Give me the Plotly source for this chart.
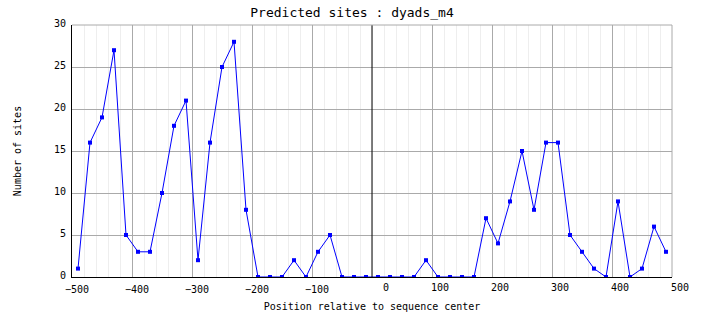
import plotly.graph_objects as go

positions = list(range(-490, 491, 20))
sites = [1, 16, 19, 27, 5, 3, 3, 10, 18, 21,
         2, 16, 25, 28, 8, 0, 0, 0, 2, 0,
         3, 5, 0, 0, 0, 0, 0, 0, 0, 2,
         0, 0, 0, 0, 7, 4, 9, 15, 8, 16,
         16, 5, 3, 1, 0, 9, 0, 1, 6, 3]
x_ticks_neg = [-500, -400, -300, -200, -100]
x_ticks_zero = [0]
x_ticks_pos = [100, 200, 300, 400, 500]
y_ticks = [0, 5, 10, 15, 20, 25, 30]

MONO = "DejaVu Sans Mono"

fig = go.Figure()
fig.add_trace(go.Scatter(
    x=positions, y=sites, mode="lines+markers",
    line=dict(color="#0000ff", width=1),
    marker=dict(symbol="square", size=4, color="#0000ff"),
    showlegend=False, hoverinfo="skip",
))

fig.add_vline(x=0, line=dict(color="black", width=1))
# gray frame top/right
fig.add_shape(type="line", xref="paper", yref="paper", x0=0, x1=1, y0=1, y1=1,
              line=dict(color="#aaaaaa", width=1))
fig.add_shape(type="line", xref="paper", yref="paper", x0=1, x1=1, y0=0, y1=1,
              line=dict(color="#aaaaaa", width=1))

common_x = dict(range=[-500, 500], ticks="", zeroline=False, automargin=False,
                ticklabelstandoff=3, tickfont=dict(family=MONO, size=10, color="black"))

fig.update_layout(
    width=704, height=328,
    margin=dict(l=72, r=32, t=25, b=51),
    paper_bgcolor="white", plot_bgcolor="white",
    font=dict(family=MONO, size=10, color="black"),
    title=dict(text="Predicted sites : dyads_m4", x=0.5, xref="container",
               y=1 - 12 / 328, yref="container", yanchor="middle", xanchor="center",
               font=dict(family=MONO, size=13, color="black")),
    xaxis=dict(
        **common_x, tickvals=x_ticks_neg, showline=True,
        linecolor="black", linewidth=1, mirror=False,
        showgrid=True, gridcolor="#aaaaaa", gridwidth=1,
        minor=dict(dtick=20, tick0=0, showgrid=True, gridcolor="#eeeeee", gridwidth=1),
        ticklabelshift=5,
        title=dict(text="Position relative to sequence center", standoff=8,
                   font=dict(family=MONO, size=10)),
    ),
    xaxis2=dict(
        **common_x, tickvals=x_ticks_zero, overlaying="x", anchor="y", side="bottom",
        showline=False, showgrid=False, ticklabelshift=14,
    ),
    xaxis3=dict(
        **common_x, tickvals=x_ticks_pos, overlaying="x", anchor="y", side="bottom",
        showline=False, showgrid=True, gridcolor="#aaaaaa", gridwidth=1,
        ticklabelshift=8,
    ),
    yaxis=dict(
        range=[0, 30], tickvals=y_ticks, ticks="", showline=True,
        linecolor="black", linewidth=1, mirror=False, zeroline=False,
        showgrid=True, gridcolor="#aaaaaa", gridwidth=1,
        ticklabelshift=-2, ticklabelstandoff=3,
        title=dict(text="Number of sites", standoff=30,
                   font=dict(family=MONO, size=10)),
        automargin=False,
    ),
)
# invisible helper traces so the overlay axes are rendered
fig.add_trace(go.Scatter(x=[None], y=[None], xaxis="x2", showlegend=False, hoverinfo="skip"))
fig.add_trace(go.Scatter(x=[None], y=[None], xaxis="x3", showlegend=False, hoverinfo="skip"))

fig.write_html("out.html")
